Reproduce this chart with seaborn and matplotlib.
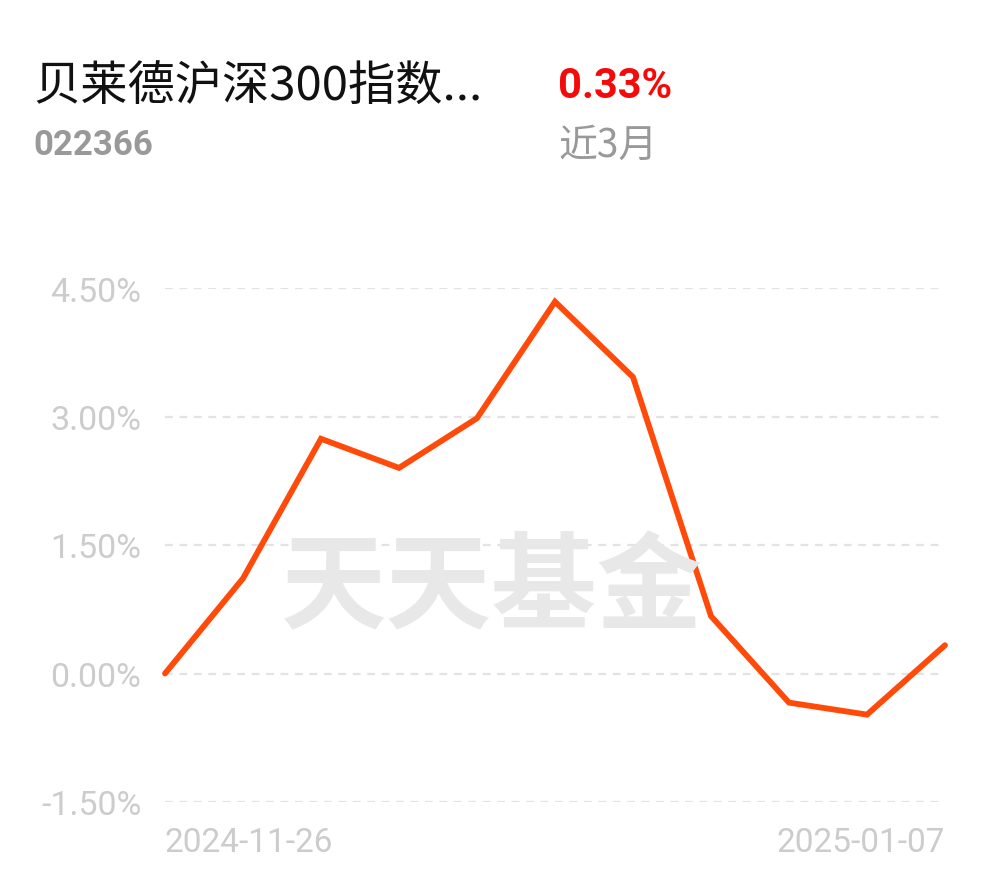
import matplotlib
matplotlib.use("Agg")
import matplotlib.pyplot as plt
import seaborn as sns
import pandas as pd

# ---- data ----
fund_name = "贝莱德沪深300指数..."
fund_code = "022366"
period_return = "0.33%"
period_label = "近3月"
watermark = "天天基金"
point_index = list(range(11))
returns = [0.00, 1.11, 2.74, 2.40, 2.98, 4.34, 3.46, 0.67, -0.34, -0.48, 0.33]
y_ticks = [-1.5, 0.0, 1.5, 3.0, 4.5]
y_tick_labels = ["-1.50%", "0.00%", "1.50%", "3.00%", "4.50%"]
x_tick_pos = [0, 10]
x_tick_labels = ["2024-11-26", "2025-01-07"]

sns.set_theme(style="white")
plt.rcParams['font.family'] = ['Roboto', 'Noto Sans CJK SC', 'DejaVu Sans']

W, H = 990, 878
fig = plt.figure(figsize=(W / 100, H / 100), dpi=100)
fig.patch.set_facecolor("white")
ax = fig.add_axes([165 / W, 75 / H, 780 / W, 514 / H])
ax.set_facecolor("none")

df = pd.DataFrame({"idx": point_index, "ret": returns})
sns.lineplot(data=df, x="idx", y="ret", ax=ax, color="#ff4a0a", linewidth=4.2,
             zorder=3, clip_on=False)
for l in ax.lines:
    l.set_solid_joinstyle("miter")
    l.set_solid_capstyle("round")

ax.set_xlim(0, 10)
ax.set_ylim(-1.5, 4.5)
ax.set_yticks(y_ticks)
ax.set_yticklabels(y_tick_labels)
ax.set_xticks(x_tick_pos)
ax.set_xticklabels(x_tick_labels)
for lab, ha in zip(ax.get_xticklabels(), ["left", "right"]):
    lab.set_ha(ha)
ax.tick_params(axis="y", length=0, pad=17, labelsize=24.5, labelcolor="#cccccc")
ax.tick_params(axis="x", length=0, pad=17, labelsize=22, labelcolor="#cccccc")
for lab in ax.get_xticklabels():
    lab.set_family(['Liberation Sans Narrow', 'Roboto', 'DejaVu Sans'])
    lab.set_fontsize(24)
ax.set_xlabel("")
ax.set_ylabel("")
for s in ax.spines.values():
    s.set_visible(False)
for yv in y_ticks:
    ax.axhline(yv, color="#e3e3e3", linewidth=1.6, linestyle=(0, (3.5, 3.0)), zorder=1)

# watermark
fig.text(492 / W, 1 - 590 / H, watermark, ha="center", va="center", fontsize=76,
         fontweight="bold", color="#e8e8e8", family=['Noto Sans CJK SC'], zorder=0)

# header texts
fig.text(33 / W, 1 - 88 / H, fund_name, ha="left", va="center", fontsize=34,
         color="#111111", family=['Noto Sans CJK SC', 'DejaVu Sans'])
fig.text(33 / W, 1 - 146 / H, fund_code, ha="left", va="center", fontsize=25,
         fontweight="bold", color="#999999", family=['Roboto', 'DejaVu Sans'])
fig.text(558 / W, 1 - 86 / H, period_return, ha="left", va="center", fontsize=30,
         fontweight="bold", color="#f50a0a", family=['Roboto', 'DejaVu Sans'])
fig.text(558 / W, 1 - 146 / H, period_label, ha="left", va="center", fontsize=28,
         color="#999999", family=['Noto Sans CJK SC', 'DejaVu Sans'])

fig.savefig("out.png", dpi=100, facecolor="white")
